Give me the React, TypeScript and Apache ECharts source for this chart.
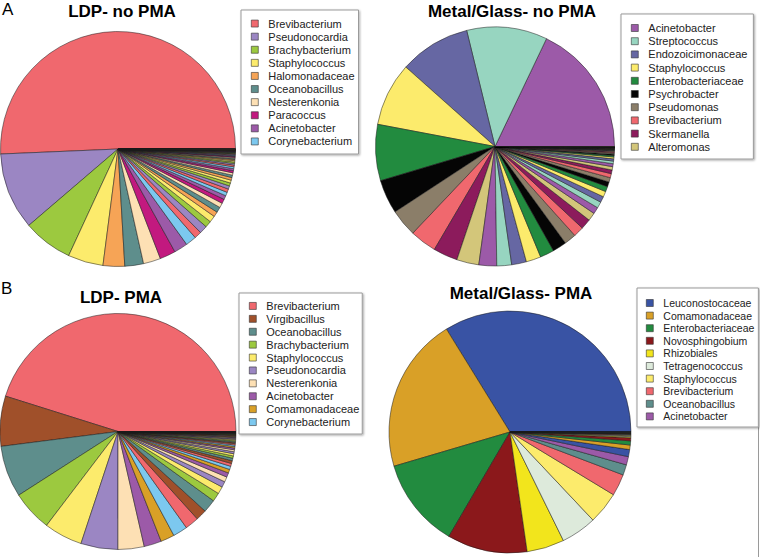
import React, { useEffect, useRef } from "react";
import * as echarts from "echarts";

// ---------- Panel A left: LDP- no PMA ----------
const ldpNoPmaNames = ["Brevibacterium", "Pseudonocardia", "Brachybacterium", "Staphylococcus", "Halomonadaceae", "Oceanobacillus", "Nesterenkonia", "Paracoccus", "Acinetobacter", "Corynebacterium"];
const ldpNoPmaColors = ["#F0686E", "#9B86C3", "#9CC93F", "#FCEB6C", "#F6A456", "#5E8E8C", "#FDE0B4", "#C2197F", "#9C5AA8", "#7CC8EF"];
const ldpNoPmaValues = [51.2, 10.7, 6.9, 4.9, 3.0, 2.6, 2.4, 2.2, 1.9, 1.5,
  1.0, 1.1, 0.9, 0.9, 0.7, 0.75, 0.65, 0.6, 0.55, 0.5,
  0.48, 0.45, 0.42, 0.4, 0.37, 0.34, 0.32, 0.3, 0.28, 0.26,
  0.24, 0.22, 0.2, 0.18, 0.16, 0.15, 0.14, 0.12, 0.11, 0.1,
  0.09, 0.08, 0.07, 0.06, 0.06, 0.05, 0.05, 0.04, 0.04, 0.03,
  0.03, 0.03, 0.02, 0.02, 0.02, 0.02, 0.02, 0.02, 0.01, 0.01,
  0.01, 0.01, 0.01, 0.01, 0.01, 0.01];

// ---------- Panel A right: Metal/Glass- no PMA ----------
const mgNoPmaNames = ["Acinetobacter", "Streptococcus", "Endozoicimonaceae", "Staphylococcus", "Enterobacteriaceae", "Psychrobacter", "Pseudomonas", "Brevibacterium", "Skermanella", "Alteromonas"];
const mgNoPmaColors = ["#9C5AA8", "#97D5C0", "#6667A3", "#FCEB6C", "#228B3F", "#050505", "#8B7E69", "#F0686E", "#8C1B5C", "#D3C67A"];
const mgNoPmaValues = [17.9, 10.9, 9.6, 8.6, 7.6, 4.6, 3.7, 3.6, 3.3, 3.0,
  2.4, 2.0, 2.0, 2.0, 1.9, 1.9, 1.6, 1.4, 1.4, 1.1,
  0.9, 0.85, 0.8, 0.75, 0.7, 0.65, 0.6, 0.55, 0.5, 0.45,
  0.4, 0.35, 0.3, 0.25, 0.2, 0.18, 0.15, 0.12, 0.1, 0.08,
  0.06, 0.05, 0.05, 0.04, 0.04, 0.03, 0.03, 0.03, 0.02, 0.02,
  0.02, 0.02, 0.02, 0.02, 0.02, 0.02, 0.02, 0.02, 0.02, 0.02];

// ---------- Panel B left: LDP- PMA ----------
const ldpPmaNames = ["Brevibacterium", "Virgibacillus", "Oceanobacillus", "Brachybacterium", "Staphylococcus", "Pseudonocardia", "Nesterenkonia", "Acinetobacter", "Comamonadaceae", "Corynebacterium"];
const ldpPmaColors = ["#F0686E", "#A0502A", "#5E8E8C", "#9CC93F", "#FCEB6C", "#9B86C3", "#FDE0B4", "#9C5AA8", "#D9A027", "#7CC8EF"];
const ldpPmaValues = [45.4, 6.9, 7.1, 5.6, 5.3, 5.1, 3.6, 2.4, 1.9, 2.0,
  1.9, 1.5, 1.8, 1.2, 1.0, 0.8, 0.7, 0.6, 0.5, 0.45,
  0.4, 0.38, 0.35, 0.32, 0.3, 0.28, 0.26, 0.24, 0.22, 0.2,
  0.18, 0.16, 0.15, 0.14, 0.13, 0.12, 0.11, 0.1, 0.09, 0.08,
  0.07, 0.06, 0.05, 0.05, 0.04, 0.04, 0.03, 0.03, 0.03, 0.02,
  0.02, 0.02, 0.02, 0.02, 0.02, 0.01, 0.01, 0.01, 0.01, 0.01, 0.01];

// ---------- Panel B right: Metal/Glass- PMA ----------
const mgPmaNames = ["Leuconostocaceae", "Comamonadaceae", "Enterobacteriaceae", "Novosphingobium", "Rhizobiales", "Tetragenococcus", "Staphylococcus", "Brevibacterium", "Oceanobacillus", "Acinetobacter"];
const mgPmaColors = ["#3953A4", "#D9A027", "#228B3F", "#8B181B", "#F2E51C", "#DDEADB", "#FCEB6C", "#F0686E", "#5E8E8C", "#9C5AA8"];
const mgPmaValues = [33.8, 20.75, 12.0, 10.7, 5.0, 4.75, 4.3, 2.9, 1.4, 1.1,
  0.95, 0.6, 0.55, 0.4, 0.15, 0.12, 0.1, 0.08, 0.06, 0.05,
  0.04, 0.03, 0.03, 0.02, 0.02, 0.02, 0.02, 0.01, 0.01, 0.01];

const FONT = "'Liberation Sans', Arial, Helvetica, sans-serif";

function buildData(key: string, names: string[], values: number[], colors: string[]) {
  return values.map((v, i) => ({
    name: i < names.length ? names[i] : key + " other " + (i + 1),
    value: v,
    itemStyle: { color: colors[i % colors.length] },
  }));
}

function pieSeries(key: string, names: string[], values: number[], colors: string[], cx: number, cy: number, r: number) {
  return {
    type: "pie",
    name: key,
    center: [cx, cy],
    radius: [0, r],
    startAngle: 0,
    clockwise: false,
    avoidLabelOverlap: false,
    label: { show: false },
    labelLine: { show: false },
    emphasis: { disabled: true },
    silent: true,
    itemStyle: { borderColor: "#1a1a1a", borderWidth: 0.5 },
    data: buildData(key, names, values, colors),
  };
}

function legendCfg(names: string[], left: number, top: number, padding: number[], lineHeight: number, fontSize: number) {
  return {
    orient: "vertical",
    left,
    top,
    data: names,
    icon: "rect",
    itemWidth: 7,
    itemHeight: 7,
    itemGap: 0,
    padding,
    selectedMode: false,
    backgroundColor: "#ffffff",
    borderColor: "#9a9a9a",
    borderWidth: 1,
    shadowColor: "rgba(0,0,0,0.35)",
    shadowBlur: 2,
    shadowOffsetX: 1,
    shadowOffsetY: 1,
    itemStyle: { borderColor: "#333333", borderWidth: 0.6 },
    textStyle: { fontFamily: FONT, fontSize, color: "#222222", lineHeight, padding: [0, 0, 0, 5] },
  };
}

export default function App() {
  const ref = useRef<HTMLDivElement>(null);
  useEffect(() => {
    if (!ref.current) return;
    const chart = echarts.init(ref.current, null, { renderer: "svg" });
    const titleStyle = { font: "bold 17px " + FONT, fill: "#000", textAlign: "center", textVerticalAlign: "middle" };
    const panelStyle = { font: "17px " + FONT, fill: "#000", textAlign: "left", textVerticalAlign: "middle" };
    chart.setOption({
      animation: false,
      backgroundColor: "#ffffff",
      graphic: [
        { type: "text", x: 2, y: 9.5, style: { ...panelStyle, text: "A" } },
        { type: "text", x: 1, y: 288.5, style: { ...panelStyle, text: "B" } },
        { type: "text", x: 122, y: 11, style: { ...titleStyle, text: "LDP- no PMA" } },
        { type: "text", x: 512, y: 11, style: { ...titleStyle, text: "Metal/Glass- no PMA" } },
        { type: "text", x: 121, y: 297, style: { ...titleStyle, text: "LDP- PMA" } },
        { type: "text", x: 521, y: 293, style: { ...titleStyle, text: "Metal/Glass- PMA" } },
        { type: "line", shape: { x1: 758.5, y1: 427, x2: 758.5, y2: 557 }, style: { stroke: "#9a9a9a", lineWidth: 1 } },
      ],
      legend: [
        legendCfg(ldpNoPmaNames, 241, 10, [7, 4, 6, 10], 13.1, 11),
        legendCfg(mgNoPmaNames, 621, 14, [7.4, 6, 5.6, 10], 13.2, 11),
        legendCfg(ldpPmaNames, 239, 293, [6.5, 3, 5.5, 10], 12.9, 11),
        legendCfg(mgPmaNames, 637, 288, [8.7, 4, 4.3, 9], 12.6, 10.5),
      ],
      series: [
        pieSeries("ldpNoPma", ldpNoPmaNames, ldpNoPmaValues, ldpNoPmaColors, 118, 149, 117.5),
        pieSeries("mgNoPma", mgNoPmaNames, mgNoPmaValues, mgNoPmaColors, 495, 146.5, 119.5),
        pieSeries("ldpPma", ldpPmaNames, ldpPmaValues, ldpPmaColors, 118, 431.5, 118),
        pieSeries("mgPma", mgPmaNames, mgPmaValues, mgPmaColors, 510, 432, 121),
      ],
    });
    return () => chart.dispose();
  }, []);
  return <div ref={ref} style={{ position: "absolute", left: 0, top: 0, width: 760, height: 557 }} />;
}
